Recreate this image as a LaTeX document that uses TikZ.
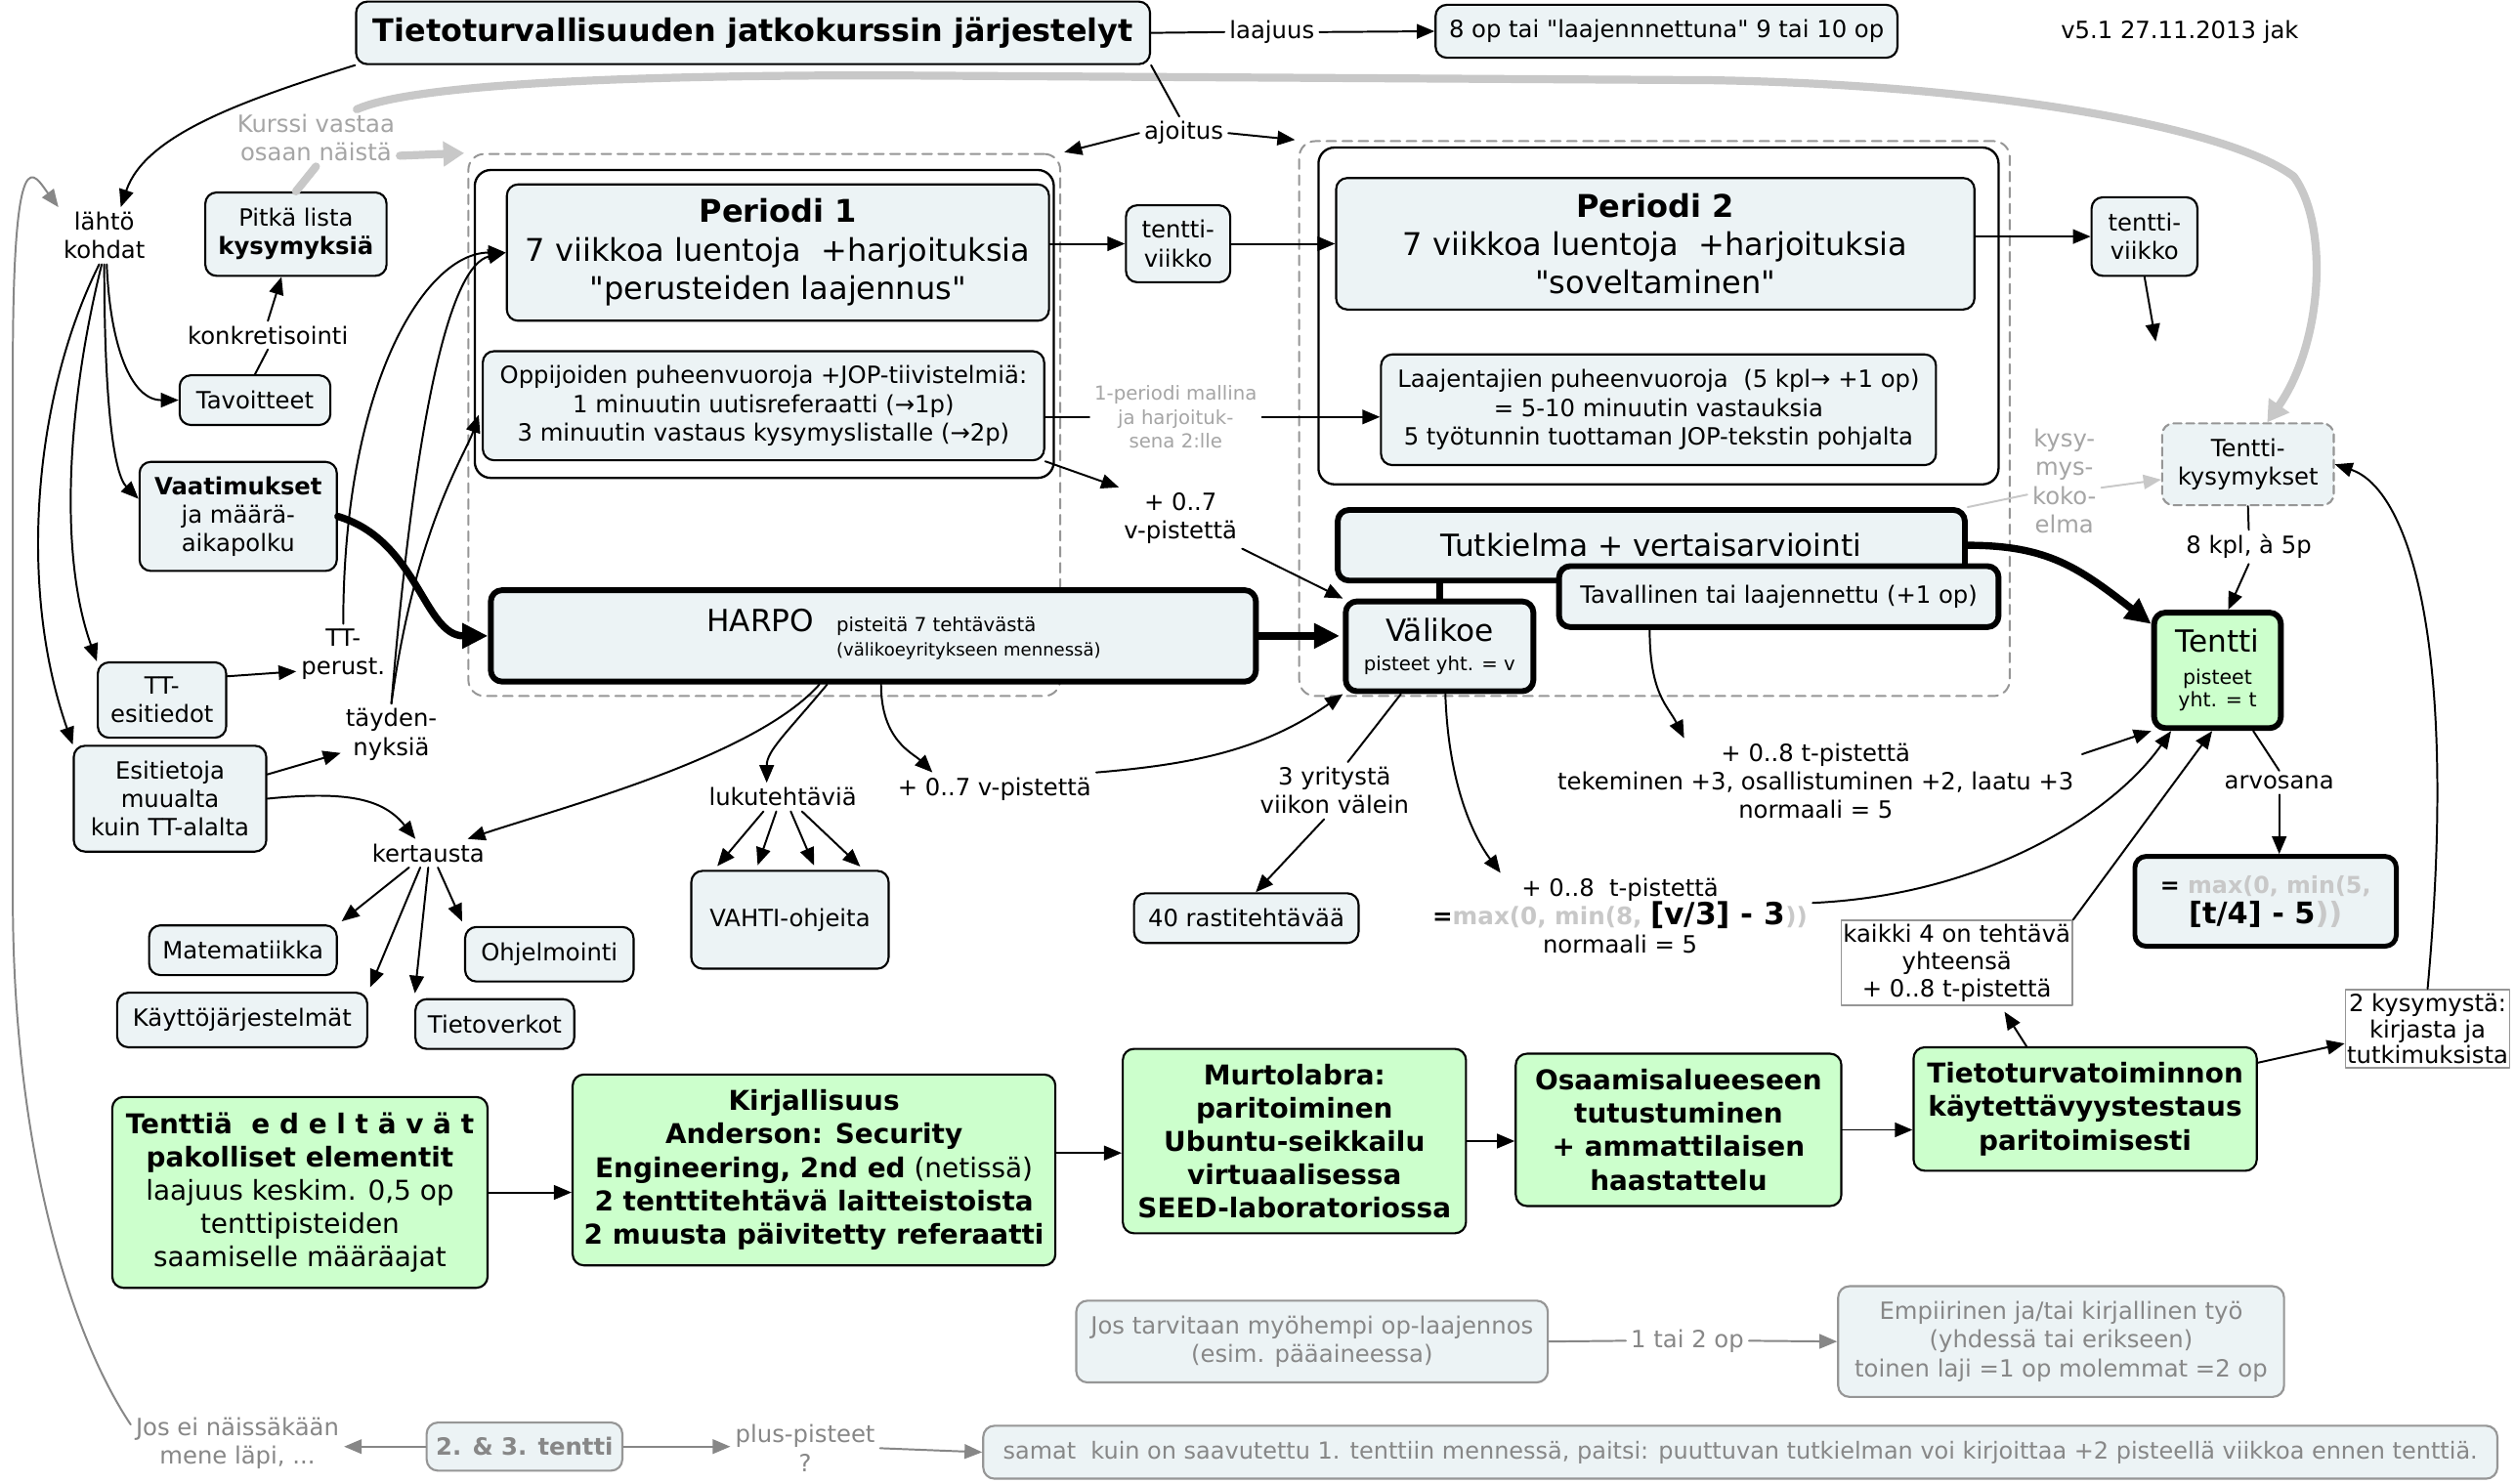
\documentclass[tikz,border=0pt]{standalone}
\usepackage{fontspec}
\setmainfont{DejaVu Sans}
\newfontfamily\quotefont{DejaVu Sans}
\newcommand{\qmark}{{\quotefont"}}
\usetikzlibrary{arrows.meta,calc}
\definecolor{boxfill}{RGB}{236,243,245}
\definecolor{greenfill}{RGB}{204,255,204}
\definecolor{palegray}{RGB}{200,200,200}
\definecolor{midgray}{RGB}{150,150,150}
\definecolor{textgray}{RGB}{135,135,135}
\definecolor{notegray}{RGB}{165,165,165}
\begin{document}
\begin{tikzpicture}[x=1pt,y=-1pt,line cap=round,line join=round,
  font=\fontsize{14.8}{17.8}\selectfont,
  mapbox/.style={draw,rounded corners=7pt,fill=boxfill,line width=1.3pt,align=center,inner sep=2pt},
  heavybox/.style={mapbox,line width=3.6pt},
  greenbox/.style={mapbox,fill=greenfill,font=\fontsize{17}{20.8}\selectfont},
  fadedbox/.style={mapbox,draw=midgray,text=textgray},
  notebox/.style={draw=midgray,fill=white,line width=1pt,align=center,inner sep=1pt},
  lbl/.style={align=center,inner sep=3pt},
  glbl/.style={lbl,text=notegray},
  grp/.style={draw=midgray,dash pattern=on 6pt off 4pt,rounded corners=10pt,line width=1.2pt},
  holder/.style={draw,rounded corners=10pt,line width=1.4pt},
  con/.style={line width=1.2pt},
  arr/.style={con,-{Triangle[length=11pt,width=9pt]}},
  garr/.style={arr,draw=textgray},
  fatarr/.style={line width=4.5pt,-{Triangle[length=16pt,width=15pt]}},
  gthick/.style={line width=5pt,draw=palegray},
  gfat/.style={gthick,-{Triangle[length=13pt,width=15pt]}}]
\fill[white] (0,0) rectangle (1568,925);
\useasboundingbox (0,0) rectangle (1568,925);
\node[grp,minimum width=369pt,minimum height=338pt] (grp1) at (476.5,265) {};
\node[grp,minimum width=443pt,minimum height=346pt] (grp2) at (1031.5,261) {};
\node[holder,minimum width=361pt,minimum height=192pt] (hold1) at (476.5,202) {};
\node[holder,minimum width=424pt,minimum height=210pt] (hold2) at (1034,197) {};
\node[mapbox,font=\bfseries\fontsize{19.4}{23}\selectfont,minimum width=495pt,minimum height=39pt] (title) at (469.5,20.5) {Tietoturvallisuuden jatkokurssin järjestelyt};
\node[lbl] (laajuus) at (793,20) {laajuus};
\node[mapbox,minimum width=288pt,minimum height=33pt] (scope) at (1039,19.5) {8 op tai \qmark laajennnettuna\qmark\ 9 tai 10 op};
\node[lbl] (version) at (1359,20) {v5.1 27.11.2013 jak};
\node[glbl] (kurssi) at (197,86) {Kurssi vastaa\\osaan näistä};
\node[lbl] (lahto) at (65,147) {lähtö\\kohdat};
\node[mapbox,minimum width=113pt,minimum height=52pt] (lista) at (184.5,146) {Pitkä lista\\\textbf{kysymyksiä}};
\node[lbl] (konkr) at (167,209) {konkretisointi};
\node[mapbox,minimum width=94pt,minimum height=31pt] (tavoit) at (159,249.5) {Tavoitteet};
\node[mapbox,minimum width=123pt,minimum height=68pt] (vaatim) at (148.5,322) {\textbf{Vaatimukset}\\ja määrä-\\aikapolku};
\node[mapbox,minimum width=80pt,minimum height=47pt] (ttesi) at (101,436.5) {TT-\\esitiedot};
\node[mapbox,minimum width=120pt,minimum height=66pt] (muualta) at (106,498) {Esitietoja\\muualta\\kuin TT-alalta};
\node[lbl] (ttperus) at (214,408) {TT-\\perust.};
\node[lbl] (taydenn) at (244,458) {täyden-\\nyksiä};
\node[lbl] (kertaus) at (267,532) {kertausta};
\node[mapbox,minimum width=117pt,minimum height=31pt] (matem) at (151.5,592.5) {Matematiikka};
\node[mapbox,minimum width=156pt,minimum height=34pt] (kayttoj) at (151,636) {Käyttöjärjestelmät};
\node[mapbox,minimum width=99pt,minimum height=31pt] (tietov) at (308.5,638.5) {Tietoverkot};
\node[mapbox,minimum width=105pt,minimum height=34pt] (ohjelm) at (342.5,595) {Ohjelmointi};
\node[lbl] (lukuteht) at (488,497) {lukutehtäviä};
\node[mapbox,minimum width=123pt,minimum height=61pt] (vahti) at (492.5,573.5) {VAHTI-ohjeita};
\node[mapbox,font=\fontsize{19.5}{24}\selectfont,minimum width=338pt,minimum height=85pt] (period1) at (485,157.5) {\textbf{Periodi 1}\\7 viikkoa luentoja \ +harjoituksia\\\qmark perusteiden laajennus\qmark};
\node[mapbox,minimum width=350pt,minimum height=68pt] (oppij) at (476,253) {Oppijoiden puheenvuoroja +JOP-tiivistelmiä:\\1 minuutin uutisreferaatti (→1p)\\3 minuutin vastaus kysymyslistalle (→2p)};
\node[heavybox,minimum width=477pt,minimum height=57pt] (harpo) at (544.5,396.5) {\hspace*{38pt}{\fontsize{19}{23}\selectfont HARPO}\hspace{14pt}{\fontsize{12}{15}\selectfont\begin{tabular}[t]{@{}l@{}}pisteitä 7 tehtävästä\\{\fontsize{11}{14}\selectfont(välikoeyritykseen mennessä)}\end{tabular}}};
\node[mapbox,minimum width=65pt,minimum height=48pt] (viikko1) at (734.5,152) {tentti-\\viikko};
\node[lbl] (ajoitus) at (738,83) {ajoitus};
\node[mapbox,font=\fontsize{19.5}{24}\selectfont,minimum width=398pt,minimum height=82pt] (period2) at (1032,152) {\textbf{Periodi 2}\\7 viikkoa luentoja \ +harjoituksia\\\qmark soveltaminen\qmark};
\node[mapbox,minimum width=346pt,minimum height=69pt] (laajent) at (1034,255.5) {Laajentajien puheenvuoroja \ (5 kpl→ +1 op)\\= 5-10 minuutin vastauksia\\5 työtunnin tuottaman JOP-tekstin pohjalta};
\node[glbl,font=\fontsize{12}{15}\selectfont] (mallina) at (733,260) {1-periodi mallina\\ja harjoituk-\\sena 2:lle};
\node[lbl] (vpist1) at (736,323) {+ 0..7\\v-pistettä};
\node[heavybox,font=\fontsize{19}{23}\selectfont,minimum width=391pt,minimum height=44pt] (tutkielma) at (1029.5,340) {Tutkielma + vertaisarviointi};
\node[heavybox,font=\fontsize{12}{14}\selectfont,minimum width=117pt,minimum height=56pt] (valikoe) at (897.5,403) {{\fontsize{19}{23}\selectfont Välikoe}\\[4pt]pisteet yht. = v};
\node[heavybox,minimum width=274pt,minimum height=38pt] (tavall) at (1109,372) {Tavallinen tai laajennettu (+1 op)};
\node[mapbox,minimum width=66pt,minimum height=49pt] (viikko2) at (1337,147.5) {tentti-\\viikko};
\coordinate (viikkoend) at (1344,213);
\node[glbl] (kokoelma) at (1287,300) {kysy-\\mys-\\koko-\\elma};
\node[mapbox,draw=midgray,dash pattern=on 5pt off 3pt,minimum width=107pt,minimum height=51pt] (tenttikys) at (1401.5,289.5) {Tentti-\\kysymykset};
\node[lbl] (kpl) at (1402,341) {8 kpl, à 5p};
\node[heavybox,fill=greenfill,font=\fontsize{12.5}{14.5}\selectfont,minimum width=79pt,minimum height=72pt] (tentti) at (1382.5,418) {{\fontsize{19}{23}\selectfont Tentti}\\[5pt]pisteet\\yht. = t};
\node[lbl] (arvosana) at (1421,488) {arvosana};
\node[heavybox,line width=3pt,font=\bfseries\fontsize{14.5}{19}\selectfont,minimum width=163pt,minimum height=56pt] (arvo) at (1412.5,562) {= \textcolor{palegray}{max(0, min(5,}\\{\fontsize{18.5}{22}\selectfont [t/4] - 5\textcolor{palegray}{))}}};
\node[lbl] (tpist1) at (1132,487) {+ 0..8 t-pistettä\\tekeminen +3, osallistuminen +2, laatu +3\\normaali = 5};
\node[lbl] (yritys) at (832,493) {3 yritystä\\viikon välein};
\node[mapbox,minimum width=140pt,minimum height=31pt] (rasti) at (777,572.5) {40 rastitehtävää};
\node[lbl] (tpist2) at (1010,571) {+ 0..8 \ t-pistettä\\{\bfseries\fontsize{15}{18}\selectfont=\textcolor{palegray}{max(0, min(8,} {\fontsize{19}{22}\selectfont[v/3] - 3}\textcolor{palegray}{))}}\\normaali = 5};
\node[lbl] (vpist2) at (620,492) {+ 0..7 v-pistettä};
\node[notebox,font=\fontsize{14.8}{17}\selectfont,minimum width=144pt,minimum height=53pt] (kaikki) at (1220,600.5) {kaikki 4 on tehtävä\\yhteensä\\+ 0..8 t-pistettä};
\node[notebox,font=\fontsize{14.8}{16}\selectfont,minimum width=101pt,minimum height=49pt] (kaksi) at (1513.5,641.5) {2 kysymystä:\\kirjasta ja\\tutkimuksista};
\node[greenbox,minimum width=234pt,minimum height=119pt] (edelt) at (187,743.5) {\textbf{Tenttiä\ \ e d e l t ä v ä t}\\\textbf{pakolliset elementit}\\laajuus keskim. 0,5 op\\tenttipisteiden\\saamiselle määräajat};
\node[greenbox,minimum width=301pt,minimum height=119pt] (kirjall) at (507.5,729.5) {\textbf{Kirjallisuus}\\\textbf{Anderson: Security}\\\textbf{Engineering, 2nd ed} (netissä)\\\textbf{2 tenttitehtävä laitteistoista}\\\textbf{2 muusta päivitetty referaatti}};
\node[greenbox,font=\bfseries\fontsize{17}{20.8}\selectfont,minimum width=214pt,minimum height=115pt] (murto) at (807,711.5) {Murtolabra:\\paritoiminen\\Ubuntu-seikkailu\\virtuaalisessa\\SEED-laboratoriossa};
\node[greenbox,font=\bfseries\fontsize{17}{20.8}\selectfont,minimum width=203pt,minimum height=95pt] (osaam) at (1046.5,704.5) {Osaamisalueeseen\\tutustuminen\\+ ammattilaisen\\haastattelu};
\node[greenbox,font=\bfseries\fontsize{17}{20.8}\selectfont,minimum width=214pt,minimum height=77pt] (kaytett) at (1300,691.5) {Tietoturvatoiminnon\\käytettävyystestaus\\paritoimisesti};
\node[fadedbox,minimum width=294pt,minimum height=51pt] (myohempi) at (818,836.5) {Jos tarvitaan myöhempi op-laajennos\\(esim. pääaineessa)};
\node[lbl,text=textgray] (optai) at (1052,836) {1 tai 2 op};
\node[fadedbox,minimum width=278pt,minimum height=69pt] (empiir) at (1285,836.5) {Empiirinen ja/tai kirjallinen työ\\(yhdessä tai erikseen)\\toinen laji =1 op molemmat =2 op};
\node[lbl,text=textgray] (josei) at (148,900) {Jos ei näissäkään\\mene läpi, ...};
\node[fadedbox,font=\bfseries\fontsize{14.8}{17.8}\selectfont,minimum width=122pt,minimum height=30pt] (uusinta) at (327,902) {2. \& 3. tentti};
\node[lbl,text=textgray] (pluspist) at (502,903) {plus-pisteet\\?};
\node[fadedbox,font=\fontsize{14.6}{17.8}\selectfont,minimum width=944pt,minimum height=33pt] (samat) at (1085,905.5) {samat \ kuin on saavutettu 1. tenttiin mennessä, paitsi: puuttuvan tutkielman voi kirjoittaa +2 pisteellä viikkoa ennen tenttiä.};
\draw[arr] (title.south west) .. controls +(-70,22) and +(15,-45) .. (lahto.60);
\draw[garr] (josei.170) .. controls +(-40,-60) and +(0,150) .. (8,560) -- (8,230) .. controls +(0,-150) and +(-15,-20) .. (lahto.north west);
\draw[gthick] (lista.north) -- (kurssi.south);
\draw[gfat,shorten >=2pt] (kurssi.-12) -- (grp1.north west);
\draw[gfat] (kurssi.35) .. controls +(40,-18) and +(-120,0) .. (548,47) -- (1066,50) .. controls +(180,3) and +(-40,-30) .. (1430,110) .. controls +(22,30) and +(35,-50) .. ($(tenttikys.north)+(12,0)$);
\draw[arr] (lahto.-85) .. controls +(2,50) and +(-30,0) .. (tavoit.west);
\draw[arr] (lahto.-90) .. controls +(0,90) and +(-15,-15) .. (vaatim.170);
\draw[arr] (lahto.-95) .. controls +(-20,80) and +(-25,-70) .. (ttesi.north west);
\draw[arr] (lahto.-100) .. controls +(-40,80) and +(-35,-100) .. (muualta.north west);
\draw[con] (tavoit.north) -- (konkr.south);
\draw[arr] (konkr.north) -- ($(lista.south)+(-9,0)$);
\draw[fatarr] (vaatim.east) .. controls +(50,15) and +(-40,0) .. (harpo.west);
\draw[arr] (ttesi.20) -- (ttperus.200);
\draw[arr] (muualta.14) -- (taydenn.200);
\draw[arr] (muualta.east) .. controls +(50,-5) and +(-20,-25) .. ($(kertaus.north)+(-8,0)$);
\draw[arr] (ttperus.north) .. controls +(0,-150) and +(-50,0) .. (period1.west);
\draw[arr] (taydenn.north) .. controls +(15,-180) and +(-35,8) .. (period1.west);
\draw[arr,shorten >=6pt] (taydenn.north) .. controls +(15,-110) and +(-10,30) .. (oppij.west);
\draw[arr] ($(harpo.south west)!0.43!(harpo.south east)$) .. controls +(-40,45) and +(60,-20) .. (kertaus.20);
\draw[arr] ($(harpo.south west)!0.44!(harpo.south east)$) .. controls +(-25,30) and +(0,-20) .. ($(lukuteht.north)+(-10,0)$);
\foreach \dx/\where in {-12/0.12,-4/0.33,5/0.63,12/0.87}
  \draw[arr,shorten >=3pt] ($(lukuteht.south)+(\dx,0)$) -- ($(vahti.north west)!\where!(vahti.north east)$);
\foreach \dx/\goal in {-12/matem.north east,-5/kayttoj.north east,0/tietov.north west,6/ohjelm.north west}
  \draw[arr,shorten >=3pt] ($(kertaus.south)+(\dx,0)$) -- (\goal);
\draw[arr] ($(harpo.south west)!0.51!(harpo.south east)$) .. controls +(0,35) and +(-12,-12) .. (vpist2.165);
\draw[arr] (vpist2.north east) .. controls +(60,-5) and +(-50,35) .. (valikoe.south west);
\draw[arr] (oppij.south east) -- (vpist1.north west);
\draw[arr] (vpist1.south east) -- (valikoe.north west);
\draw[fatarr,shorten >=2pt] (harpo.east) -- (harpo.east -| valikoe.west);
\draw[line width=4pt] (valikoe.north) -- (valikoe.north |- tutkielma.south);
\draw[arr] (viikko1.west -| period1.east) -- (viikko1.west);
\draw[arr] (viikko1.east) -- (viikko1.east -| period2.west);
\draw[con] (title.south east) -- (ajoitus.105);
\draw[arr,shorten >=2pt] (ajoitus.west) -- (grp1.north east);
\draw[arr,shorten >=2pt] (ajoitus.east) -- (grp2.north west);
\draw[con] (title.east) -- (laajuus.west);
\draw[arr] (laajuus.east) -- (scope.west);
\draw[con] (mallina.west -| oppij.east) -- (mallina.west);
\draw[arr] (mallina.east) -- (mallina.east -| laajent.west);
\draw[arr] (viikko2.west -| period2.east) -- (viikko2.west);
\draw[arr] (viikko2.south) -- (viikkoend);
\draw[con,draw=palegray] (tutkielma.north east) -- (kokoelma.200);
\draw[arr,draw=palegray] (kokoelma.-10) -- (tenttikys.190);
\draw[con] (tenttikys.south) -- (kpl.north);
\draw[arr] (kpl.south) -- (tentti.80);
\draw[fatarr] (tutkielma.east) .. controls +(50,0) and +(-45,-35) .. (tentti.145);
\draw[arr] (kaksi.north) .. controls +(20,-220) and +(45,15) .. (tenttikys.east);
\draw[arr] ($(tavall.south west)!0.21!(tavall.south east)$) .. controls +(0,40) and +(-10,-20) .. ($(tpist1.north west)!0.25!(tpist1.north east)$);
\draw[arr] ($(tpist1.north east)+(2,10)$) -- (tentti.south west);
\draw[con] ($(valikoe.south west)!0.3!(valikoe.south east)$) -- (yritys.65);
\draw[arr] (yritys.250) -- (rasti.70);
\draw[arr] ($(valikoe.south west)!0.53!(valikoe.south east)$) .. controls +(2,60) and +(-15,-20) .. ($(tpist2.north west)!0.19!(tpist2.north east)$);
\draw[arr] ($(tpist2.north east)!0.35!(tpist2.south east)$) .. controls +(110,-5) and +(-35,50) .. ($(tentti.south west)!0.15!(tentti.south east)$);
\draw[arr] (kaikki.north east) -- ($(tentti.south west)!0.46!(tentti.south east)$);
\draw[con] ($(tentti.south west)!0.77!(tentti.south east)$) -- (arvosana.north);
\draw[arr] (arvosana.south) -- (arvosana.south |- arvo.north);
\draw[arr] (edelt.east) -- (edelt.east -| kirjall.west);
\draw[arr] (kirjall.4) -- (kirjall.4 -| murto.west);
\draw[arr] (murto.east) -- (murto.east -| osaam.west);
\draw[arr] (osaam.east) -- (osaam.east -| kaytett.west);
\draw[arr,shorten >=4pt] ($(kaytett.north west)!0.33!(kaytett.north east)$) -- ($(kaikki.south west)!0.69!(kaikki.south east)$);
\draw[arr] (kaytett.15) -- (kaksi.190);
\draw[draw=textgray,con] (myohempi.east) -- (optai.west);
\draw[garr] (optai.east) -- (empiir.west);
\draw[garr] (uusinta.west) -- (uusinta.west -| josei.east);
\draw[garr] (uusinta.east) -- (uusinta.east -| pluspist.west);
\draw[garr] (pluspist.east) -- (samat.west);
\end{tikzpicture}
\end{document}
